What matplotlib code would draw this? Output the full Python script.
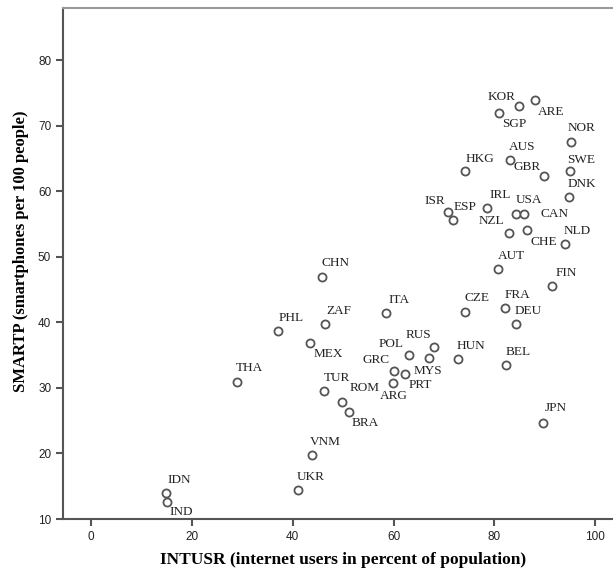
#!/usr/bin/env python3
# -*- coding: utf-8 -*-

import matplotlib
matplotlib.use("Agg")
import matplotlib.pyplot as plt


# -------------------------------------------------
# DATA
# -------------------------------------------------
countries = [
    "KOR", "ARE", "SGP", "NOR", "AUS", "GBR", "HKG", "SWE", "DNK", "IRL",
    "ISR", "ESP", "USA", "CAN", "NZL", "CHE", "NLD", "AUT", "FIN", "ITA",
    "CZE", "FRA", "DEU", "RUS", "POL", "MYS", "HUN", "GRC", "PRT", "ARG",
    "BEL", "JPN", "ZAF", "PHL", "CHN", "MEX", "TUR", "ROM", "BRA", "VNM",
    "THA", "IDN", "IND", "UKR",
]
intusr = [
    84.8, 88.1, 81.0, 95.1, 83.0, 89.9, 74.1, 94.9, 94.7, 78.5,
    70.8, 71.7, 84.2, 85.9, 82.8, 86.4, 93.9, 80.7, 91.5, 58.5,
    74.2, 82.0, 84.2, 68.1, 63.0, 67.1, 72.7, 60.0, 62.2, 59.9,
    82.2, 89.7, 46.5, 37.1, 45.8, 43.5, 46.3, 49.8, 51.1, 43.9,
    29.0, 15.0, 15.2, 41.1,
]
smartp = [
    73.1, 73.9, 71.9, 67.6, 64.8, 62.3, 63.1, 63.1, 59.2, 57.4,
    56.9, 55.6, 56.5, 56.5, 53.7, 54.1, 52.0, 48.2, 45.5, 41.4,
    41.6, 42.2, 39.8, 36.2, 35.0, 34.5, 34.4, 32.6, 32.1, 30.7,
    33.5, 24.7, 39.8, 38.7, 46.9, 36.8, 29.6, 27.9, 26.3, 19.7,
    30.9, 14.0, 12.6, 14.4,
]

x_ticks = [0, 20, 40, 60, 80, 100]
y_ticks = [10, 20, 30, 40, 50, 60, 70, 80]

# label offsets from each point (pixels, dx right / dy up); default above-right
DEFAULT_OFFSET = (13, 13)
LABEL_OFFSET = {
    "KOR": (-17, 9), "ARE": (16, -12), "SGP": (15, -11), "NOR": (11, 14),
    "GBR": (-17, 9), "HKG": (15, 12), "SWE": (12, 11), "ISR": (-13, 11),
    "USA": (13, 14), "CAN": (30, 0), "NZL": (-17, 12), "CHE": (17, -12),
    "RUS": (-16, 12), "POL": (-18, 11), "MYS": (-1, -13), "GRC": (-17, 11),
    "PRT": (16, -11), "ARG": (1, -13), "JPN": (12, 15), "MEX": (18, -11),
    "ROM": (23, 14), "BRA": (17, -11), "IND": (14, -10), "CHN": (14, 14),
    "FIN": (14, 13), "CZE": (12, 14), "THA": (12, 14),
}


# -------------------------------------------------
# FIGURE
# -------------------------------------------------
fig = plt.figure(figsize=(6.13, 5.72), dpi=100)
ax = fig.add_axes([63 / 613, 53 / 572, 1 - 63 / 613, (519 - 8) / 572])

ax.scatter(intusr, smartp, s=34, facecolors="white",
           edgecolors="#555555", linewidths=1.3, zorder=3)

for name, xv, yv in zip(countries, intusr, smartp):
    dx, dy = LABEL_OFFSET.get(name, DEFAULT_OFFSET)
    ax.annotate(name, (xv, yv), xytext=(dx, dy), textcoords="offset pixels",
                ha="center", va="center", fontsize=9.5,
                family="Liberation Serif", color="#222222")

ax.set_xlim(-5.5, 103.5)
ax.set_ylim(10, 88)
ax.set_xticks(x_ticks)
ax.set_yticks(y_ticks)
ax.tick_params(direction="out", length=5, width=1.5, color="#555555",
               labelsize=8.5, labelcolor="#222222")
for lab in ax.get_xticklabels() + ax.get_yticklabels():
    lab.set_family("Liberation Sans")

ax.spines["right"].set_visible(False)
ax.spines["top"].set_color("#999999")
ax.spines["top"].set_linewidth(1.5)
for side in ("left", "bottom"):
    ax.spines[side].set_color("#555555")
    ax.spines[side].set_linewidth(1.5)

ax.set_xlabel("INTUSR (internet users in percent of population)",
              fontsize=12.5, fontweight="bold", family="Liberation Serif")
ax.set_ylabel("SMARTP (smartphones per 100 people)",
              fontsize=12, fontweight="bold", family="Liberation Serif")
ax.xaxis.set_label_coords(0.51, -0.064)
ax.yaxis.set_label_coords(-0.062, 0.524)

fig.savefig("out.png", dpi=100)
